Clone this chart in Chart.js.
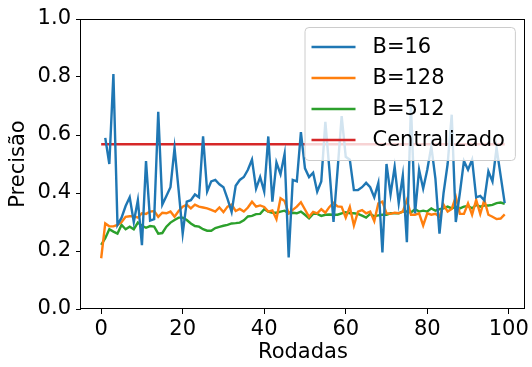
<!DOCTYPE html>
<html>
<head>
<meta charset="utf-8">
<script src="https://cdn.jsdelivr.net/npm/chart.js@4/dist/chart.umd.min.js"></script>
<style>
    html, body { margin: 0; padding: 0; background: #fff; }
</style>
</head>
<body>
<canvas id="chart" width="532" height="367"></canvas>
<script>
// Precisão por rodada para cada tamanho de lote

const rounds = Array.from({ length: 100 }, (_, i) => i);

const b16 = [
    null, 0.59, 0.50, 0.81, 0.29, 0.315, 0.355, 0.385, 0.30, 0.375,
    0.22, 0.51, 0.305, 0.31, 0.68, 0.36, 0.39, 0.42, 0.555, 0.41,
    0.26, 0.37, 0.375, 0.395, 0.385, 0.595, 0.405, 0.44, 0.445, 0.43,
    0.42, 0.38, 0.335, 0.425, 0.445, 0.455, 0.48, 0.515, 0.415, 0.455,
    0.405, 0.595, 0.37, 0.505, 0.465, 0.535, 0.178, 0.445, 0.44, 0.61,
    0.485, 0.455, 0.47, 0.405, 0.44, 0.645, 0.48, 0.30, 0.48, 0.665,
    0.525, 0.515, 0.41, 0.41, 0.42, 0.435, 0.42, 0.385, 0.435, 0.195,
    0.50, 0.395, 0.49, 0.365, 0.46, 0.23, 0.70, 0.33, 0.48, 0.415,
    0.48, 0.56, 0.45, 0.26, 0.40, 0.50, 0.67, 0.30, 0.40, 0.51,
    0.48, 0.515, 0.385, 0.39, 0.375, 0.475, 0.44, 0.555, 0.46, 0.365
];

const b128 = [
    0.175, 0.295, 0.285, 0.285, 0.29, 0.30, 0.318, 0.32, 0.32, 0.315,
    0.33, 0.328, 0.336, 0.338, 0.318, 0.332, 0.33, 0.336, 0.318, 0.338,
    0.353, 0.36, 0.347, 0.36, 0.353, 0.35, 0.347, 0.342, 0.336, 0.35,
    0.334, 0.353, 0.36, 0.338, 0.345, 0.336, 0.35, 0.37, 0.353, 0.357,
    0.352, 0.336, 0.34, 0.31, 0.382, 0.372, 0.33, 0.342, 0.353, 0.368,
    0.343, 0.318, 0.335, 0.33, 0.344, 0.332, 0.352, 0.366, 0.354, 0.352,
    0.315, 0.352, 0.288, 0.336, 0.341, 0.33, 0.336, 0.303, 0.364, 0.37,
    0.33, 0.328, 0.332, 0.33, 0.336, 0.376, 0.325, 0.325, 0.33, 0.288,
    0.33, 0.325, 0.328, 0.318, 0.36, 0.336, 0.345, 0.387, 0.328, 0.328,
    0.364, 0.325, 0.376, 0.328, 0.376, 0.325, 0.318, 0.31, 0.312, 0.326
];

const b512 = [
    0.221, 0.244, 0.275, 0.267, 0.26, 0.29, 0.275, 0.284, 0.275, 0.298,
    0.287, 0.28, 0.286, 0.284, 0.26, 0.262, 0.284, 0.298, 0.307, 0.315,
    0.315, 0.307, 0.295, 0.286, 0.284, 0.275, 0.27, 0.27, 0.279, 0.283,
    0.287, 0.29, 0.295, 0.296, 0.298, 0.306, 0.319, 0.321, 0.327, 0.328,
    0.344, 0.336, 0.332, 0.332, 0.336, 0.339, 0.33, 0.332, 0.33, 0.336,
    0.325, 0.313, 0.328, 0.328, 0.321, 0.325, 0.326, 0.325, 0.325, 0.33,
    0.334, 0.33, 0.33, 0.328, 0.322, 0.315, 0.328, 0.32, 0.323, 0.325,
    0.325, 0.33, 0.33, 0.33, 0.336, 0.336, 0.333, 0.344, 0.336, 0.339,
    0.336, 0.347, 0.339, 0.344, 0.347, 0.353, 0.347, 0.353, 0.347, 0.353,
    0.355, 0.347, 0.359, 0.353, 0.357, 0.357, 0.359, 0.365, 0.367, 0.363
];

const centralizado = 0.568;

const xTicks = [0, 20, 40, 60, 80, 100];
const yTicks = [0, 0.2, 0.4, 0.6, 0.8, 1.0];

const FONT = 'DejaVu Sans';
Chart.defaults.font.family = FONT;
Chart.defaults.color = '#000';

function toPoints(values) {
    return rounds.map((r, i) => ({ x: r, y: values[i] }));
}

function lineSet(label, data, color) {
    return {
        label,
        data,
        borderColor: color,
        backgroundColor: color,
        borderWidth: 2.4,
        pointRadius: 0,
        tension: 0,
        fill: false
    };
}

// caixa completa em volta da área do gráfico (estilo matplotlib)
const framePlugin = {
    id: 'frame',
    afterDatasetsDraw(chart) {
        const { ctx, chartArea: a } = chart;
        ctx.save();
        ctx.strokeStyle = '#000';
        ctx.lineWidth = 1;
        ctx.strokeRect(Math.round(a.left) - 0.5, Math.round(a.top) + 0.5,
            Math.round(a.right - a.left), Math.round(a.bottom - a.top) - 1);
        ctx.restore();
    }
};

// legenda dentro do gráfico, canto superior direito
const boxLegend = {
    id: 'boxLegend',
    afterDraw(chart) {
        const { ctx, chartArea: a } = chart;
        const sets = chart.data.datasets;
        ctx.save();
        ctx.font = '21px "' + FONT + '"';
        const textW = Math.max(...sets.map(d => ctx.measureText(d.label).width));
        const rowH = 31;
        const w = 68 + textW + 10;
        const h = 20 * 2 + rowH * (sets.length - 1);
        const right = a.right - 10;
        const top = a.top + 8;
        const left = right - w;

        ctx.beginPath();
        ctx.roundRect(left + 0.5, top + 0.5, w, h, 4);
        ctx.fillStyle = 'rgba(255,255,255,0.8)';
        ctx.fill();
        ctx.strokeStyle = '#cccccc';
        ctx.lineWidth = 1;
        ctx.stroke();

        sets.forEach((d, i) => {
            const y = top + 20 + i * rowH;
            ctx.beginPath();
            ctx.moveTo(left + 7, y);
            ctx.lineTo(left + 51, y);
            ctx.strokeStyle = d.borderColor;
            ctx.lineWidth = 2.4;
            ctx.stroke();
            ctx.fillStyle = '#000';
            ctx.textBaseline = 'middle';
            ctx.textAlign = 'left';
            ctx.fillText(d.label, left + 68, y + 1);
        });
        ctx.restore();
    }
};

const tickGrid = {
    display: true,
    drawOnChartArea: false,
    drawTicks: true,
    tickLength: 5,
    tickColor: '#000',
    tickWidth: 1
};

new Chart(document.getElementById('chart'), {
    type: 'line',
    data: {
        datasets: [
            lineSet('B=16', toPoints(b16), '#1f77b4'),
            lineSet('B=128', toPoints(b128), '#ff7f0e'),
            lineSet('B=512', toPoints(b512), '#2ca02c'),
            lineSet('Centralizado', [
                { x: rounds[0], y: centralizado },
                { x: rounds[rounds.length - 1], y: centralizado }
            ], '#d62728')
        ]
    },
    options: {
        responsive: false,
        animation: false,
        layout: { padding: { top: 19, right: 5, left: 0, bottom: 0 } },
        plugins: {
            legend: { display: false },
            tooltip: { enabled: false }
        },
        scales: {
            x: {
                type: 'linear',
                min: -4.95,
                max: 103.95,
                afterBuildTicks: s => { s.ticks = xTicks.map(v => ({ value: v })); },
                afterFit: s => { s.height = 58; },
                border: { display: false },
                grid: tickGrid,
                ticks: {
                    font: { size: 21 },
                    padding: 3,
                    maxRotation: 0,
                    callback: v => String(v)
                },
                title: {
                    display: true,
                    text: 'Rodadas',
                    font: { size: 21 },
                    padding: { top: 0, bottom: 2 }
                }
            },
            y: {
                min: 0,
                max: 1,
                afterBuildTicks: s => { s.ticks = yTicks.map(v => ({ value: v })); },
                afterFit: s => { s.width = 81; },
                border: { display: false },
                grid: tickGrid,
                ticks: {
                    font: { size: 21 },
                    padding: 5,
                    callback: v => Number(v).toFixed(1)
                },
                title: {
                    display: true,
                    text: 'Precisão',
                    font: { size: 21 },
                    padding: { top: 6, bottom: 0 }
                }
            }
        }
    },
    plugins: [framePlugin, boxLegend]
});
</script>
</body>
</html>
